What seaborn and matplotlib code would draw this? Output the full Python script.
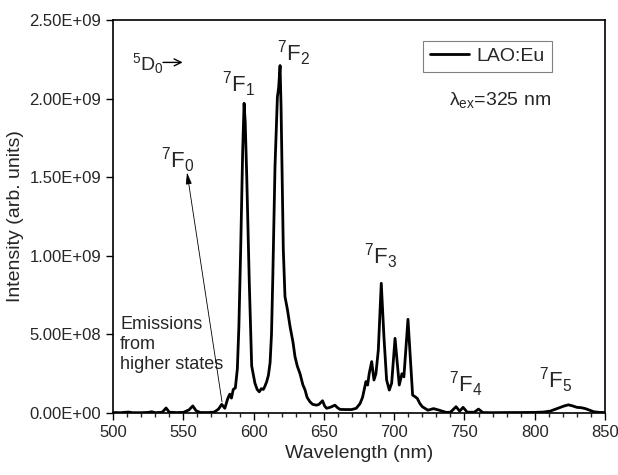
import matplotlib
matplotlib.use("Agg")
import matplotlib.pyplot as plt
import seaborn as sns
import pandas as pd
from matplotlib.ticker import MultipleLocator, FuncFormatter

# spectrum (nm, intensity in units of 1e9)
wavelength = [500, 505, 508, 511, 514, 520, 525, 527.5, 530, 535, 537.7, 540, 545, 550,
              554, 556.7, 559, 562, 568, 572, 575, 577.3, 579.5, 581.5, 583, 584.2, 585.5,
              587, 588.4, 589.5, 590.8, 592.2, 593.2, 594, 595.1, 596.9, 598.6, 600.9,
              602.5, 604, 605.5, 606.9, 608, 609.3, 610.5, 611.7, 612.7, 613.6, 615.2,
              616.9, 617.8, 618.8, 619.5, 620, 621.1, 622.3, 624, 625.9, 628, 629.4, 631,
              633, 635, 636.6, 638, 640, 642, 644.8, 646.5, 649, 650.5, 651.9, 654, 655.5,
              657.8, 659.5, 661.4, 665, 669.7, 673, 675.7, 677.5, 679.9, 681.1, 682.2, 684,
              685.6, 687, 688.7, 690.8, 692.7, 694.6, 696.5, 698.2, 700.6, 702.2, 703.6,
              705.5, 706.9, 709.8, 711.7, 713.1, 714.8, 716.4, 718.3, 720, 724, 728, 732,
              737, 740, 744, 746.6, 749, 752, 757, 760, 763, 770, 780, 790, 800, 806, 811,
              815, 818, 821, 824, 827, 830, 833, 836, 839, 842, 846, 850]
intensity_e9 = [0.003, 0.002, 0.004, 0.006, 0.002, 0.002, 0.004, 0.008, 0.002, 0.005, 0.032,
                0.005, 0.003, 0.004, 0.02, 0.045, 0.015, 0.003, 0.003, 0.006, 0.025, 0.055,
                0.03, 0.09, 0.12, 0.095, 0.15, 0.16, 0.28, 0.55, 1.05, 1.67, 1.97, 1.85, 1.5,
                0.83, 0.30, 0.19, 0.15, 0.135, 0.155, 0.15, 0.17, 0.2, 0.24, 0.32, 0.5, 0.85,
                1.57, 2.01, 2.07, 2.21, 1.95, 1.67, 1.04, 0.74, 0.66, 0.55, 0.45, 0.36, 0.3,
                0.25, 0.18, 0.146, 0.1, 0.072, 0.055, 0.05, 0.055, 0.078, 0.045, 0.03, 0.035,
                0.04, 0.05, 0.035, 0.023, 0.022, 0.022, 0.03, 0.06, 0.10, 0.2, 0.178, 0.25,
                0.327, 0.21, 0.25, 0.4, 0.825, 0.485, 0.21, 0.146, 0.19, 0.475, 0.316, 0.178,
                0.25, 0.23, 0.596, 0.316, 0.114, 0.104, 0.093, 0.06, 0.04, 0.018, 0.028,
                0.018, 0.004, 0.005, 0.04, 0.012, 0.036, 0.005, 0.005, 0.025, 0.003, 0.002,
                0.003, 0.003, 0.004, 0.006, 0.012, 0.025, 0.035, 0.045, 0.052, 0.045, 0.036,
                0.034, 0.028, 0.018, 0.008, 0.004, 0.003]

df = pd.DataFrame({"Wavelength": wavelength,
                   "Intensity": [v * 1e9 for v in intensity_e9]})

sns.set_style("ticks")
plt.rcParams["font.family"] = ["Liberation Sans", "DejaVu Sans"]
plt.rcParams["mathtext.fontset"] = "custom"
plt.rcParams["mathtext.rm"] = "Liberation Sans"
plt.rcParams["mathtext.it"] = "Liberation Sans:italic"
plt.rcParams["mathtext.default"] = "regular"

fig = plt.figure(figsize=(6.18, 4.75), dpi=100)
ax = fig.add_axes([0.183, 0.1305, 0.796, 0.8275])

sns.lineplot(x="Wavelength", y="Intensity", data=df, color="black", linewidth=2,
             estimator=None, label="LAO:Eu", ax=ax)

ax.set_xlim(500, 850)
ax.set_ylim(0, 2.5e9)
ax.xaxis.set_major_locator(MultipleLocator(50))
ax.xaxis.set_minor_locator(MultipleLocator(10))
ax.yaxis.set_major_locator(MultipleLocator(5e8))
ax.yaxis.set_major_formatter(FuncFormatter(lambda v, p: "%.2E" % v))
ax.tick_params(axis="both", which="major", direction="out", length=5, width=1,
               labelsize=12, color="black", top=False, right=False)
ax.tick_params(axis="x", which="minor", direction="out", length=3, width=1)
for s in ax.spines.values():
    s.set_linewidth(1.2)
    s.set_color("black")

ax.set_xlabel("Wavelength (nm)", fontsize=14)
ax.set_ylabel("Intensity (arb. units)", fontsize=14)

# peak labels
fs = 16
ax.text(513.5, 2.22e9, r"$^{5}$D$_{0}$", fontsize=14, ha="left", va="center")
ax.annotate("", xy=(549.5, 2.23e9), xytext=(535.5, 2.23e9),
            arrowprops=dict(arrowstyle="->,head_width=0.25,head_length=0.5",
                            color="black", lw=1.0, shrinkA=0, shrinkB=0))
ax.text(589, 2.09e9, r"$^{7}$F$_{1}$", fontsize=fs, ha="center", va="center")
ax.text(628.5, 2.29e9, r"$^{7}$F$_{2}$", fontsize=fs, ha="center", va="center")
ax.text(546, 1.61e9, r"$^{7}$F$_{0}$", fontsize=fs, ha="center", va="center")
ax.text(690, 1.0e9, r"$^{7}$F$_{3}$", fontsize=fs, ha="center", va="center")
ax.text(751, 0.18e9, r"$^{7}$F$_{4}$", fontsize=fs, ha="center", va="center")
ax.text(815, 0.21e9, r"$^{7}$F$_{5}$", fontsize=fs, ha="center", va="center")
ax.text(505, 0.62e9, "Emissions\nfrom\nhigher states", fontsize=13, ha="left", va="top",
        linespacing=1.25)
ax.text(775, 1.99e9, r"$\lambda_{ex}$=325 nm", fontsize=14, ha="center", va="center")

ax.annotate("", xy=(552.6, 1.53e9), xytext=(577.5, 0.07e9),
            arrowprops=dict(arrowstyle="-|>,head_width=0.18,head_length=0.7",
                            color="black", lw=0.6, mutation_scale=10,
                            shrinkA=0, shrinkB=0))

leg = ax.legend(loc="upper right", bbox_to_anchor=(0.892, 0.947), borderaxespad=0,
                fontsize=14, fancybox=False, framealpha=1, edgecolor="gray",
                handlelength=2.0, borderpad=0.35, handletextpad=0.4)
leg.get_frame().set_linewidth(0.8)

fig.savefig("out.png", dpi=100)
